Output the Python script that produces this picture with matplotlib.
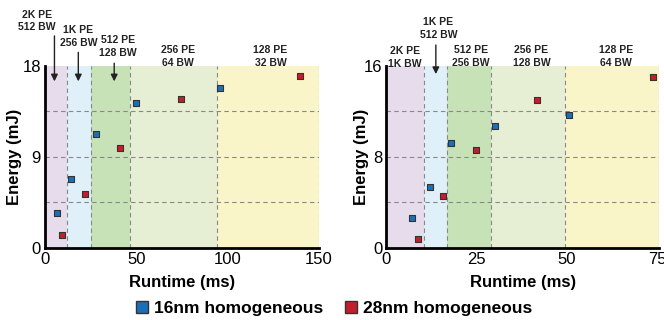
import matplotlib.pyplot as plt

plt.rcParams['font.family'] = ['Liberation Sans', 'DejaVu Sans']

# left panel data
left_bands = [0, 12.2, 25.3, 46.5, 94.3, 150.5]
left_blue_x = [6.4, 14.4, 27.7, 49.6, 96.2]
left_blue_y = [3.5, 6.8, 11.3, 14.3, 15.85]
left_red_x = [9.5, 21.7, 41.2, 74.3, 140.1]
left_red_y = [1.3, 5.3, 9.9, 14.7, 17.0]
left_labels = ["2K PE\n512 BW", "1K PE\n256 BW", "512 PE\n128 BW", "256 PE\n64 BW", "128 PE\n32 BW"]

# right panel data
right_bands = [0, 10.5, 16.9, 28.9, 49.4, 75.5]
right_blue_x = [7.1, 12.0, 17.8, 30.1, 50.5]
right_blue_y = [2.67, 5.35, 9.2, 10.7, 11.7]
right_red_x = [8.7, 15.7, 24.7, 41.8, 74.0]
right_red_y = [0.77, 4.57, 8.6, 13.0, 15.0]
right_labels = ["2K PE\n1K BW", "1K PE\n512 BW", "512 PE\n256 BW", "256 PE\n128 BW", "128 PE\n64 BW"]

band_colors = ['#e6dcec', '#e0f0f9', '#c8e2b8', '#e6efd4', '#faf5c8']
blue = '#1a70b8'
red = '#c41e2a'

fig = plt.figure(figsize=(6.64, 3.2), dpi=100)
ax1 = fig.add_axes([0.068, 0.225, 0.413, 0.569])
ax2 = fig.add_axes([0.582, 0.225, 0.410, 0.569])


def setup(ax, bands, bx, by, rx, ry, ymax, yticks, xticks, hgrid, ypad):
    for i in range(len(bands) - 1):
        ax.axvspan(bands[i], bands[i + 1], color=band_colors[i], lw=0, zorder=0)
    for b in bands[1:]:
        ax.axvline(b, color='#888888', ls=(0, (4, 3)), lw=0.8, zorder=1)
    for h in hgrid:
        ax.axhline(h, color='#888888', ls=(0, (4, 3)), lw=0.8, zorder=1)
    ax.scatter(bx, by, marker='s', s=20, color=blue, edgecolors='#333333', linewidths=0.8, zorder=3)
    ax.scatter(rx, ry, marker='s', s=20, color=red, edgecolors='#333333', linewidths=0.8, zorder=3)
    ax.set_xlim(bands[0], bands[-1])
    ax.set_ylim(0, ymax)
    ax.set_yticks(yticks)
    ax.set_xticks(xticks)
    ax.tick_params(length=0, labelsize=12, pad=3)
    for s in ['top', 'right']:
        ax.spines[s].set_visible(False)
    ax.spines['left'].set_linewidth(2)
    ax.spines['bottom'].set_linewidth(2)
    ax.set_xlabel("Runtime (ms)", fontsize=12, fontweight='bold', labelpad=6)
    ax.set_ylabel("Energy (mJ)", fontsize=12, fontweight='bold', labelpad=ypad)


setup(ax1, left_bands, left_blue_x, left_blue_y, left_red_x, left_red_y,
      18, [0, 9, 18], [0, 50, 100, 150], [4.5, 9, 13.5], 0)
setup(ax2, right_bands, right_blue_x, right_blue_y, right_red_x, right_red_y,
      16, [0, 8, 16], [0, 25, 50, 75], [4, 8, 12], -4)

tkw = dict(ha='center', va='bottom', fontsize=7.5, fontweight='bold',
           linespacing=1.3, color='#222222', clip_on=False)
akw = dict(arrowstyle='-|>', color='#222222', lw=1, mutation_scale=10)

# left labels: (x center, text bottom in axes fraction)
left_pos = [(-4.5, 1.185), (18.2, 1.10), (40.0, 1.045), (72.8, 0.99), (123.7, 0.99)]
left_arrows = [(5.1, 1.18), (18.2, 1.09), (37.9, 1.03)]
for (x, y), t in zip(left_pos, left_labels):
    ax1.text(x, y, t, transform=ax1.get_xaxis_transform(), **tkw)
for x, y in left_arrows:
    ax1.annotate('', xy=(x, 0.90), xytext=(x, y), xycoords=ax1.get_xaxis_transform(),
                 textcoords=ax1.get_xaxis_transform(), arrowprops=akw)

right_pos = [(5.1, 0.985), (14.4, 1.145), (23.4, 0.99), (40.2, 0.99), (63.7, 0.99)]
for (x, y), t in zip(right_pos, right_labels):
    ax2.text(x, y, t, transform=ax2.get_xaxis_transform(), **tkw)
ax2.annotate('', xy=(13.7, 0.94), xytext=(13.7, 1.13), xycoords=ax2.get_xaxis_transform(),
             textcoords=ax2.get_xaxis_transform(), arrowprops=akw)

# legend
h1 = plt.Line2D([], [], marker='s', ls='', color=blue, markeredgecolor='#333333', markersize=8)
h2 = plt.Line2D([], [], marker='s', ls='', color=red, markeredgecolor='#333333', markersize=8)
fig.legend([h1, h2], ["16nm homogeneous", "28nm homogeneous"], loc='center',
           bbox_to_anchor=(0.5, 0.035), ncol=2, frameon=False, handletextpad=0.1,
           handlelength=1.2, columnspacing=1.0, prop={'weight': 'bold', 'size': 12.5})

fig.savefig('out.png', dpi=100)
